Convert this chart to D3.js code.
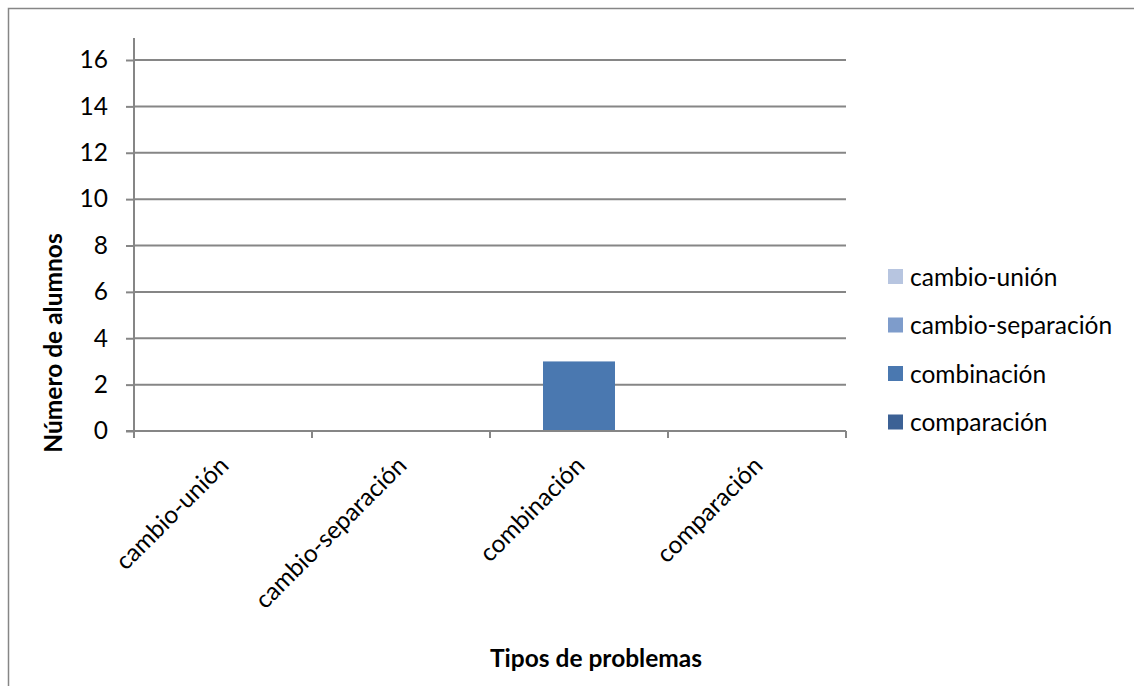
<!DOCTYPE html>
<html>
<head>
<meta charset="utf-8">
<script src="https://cdn.jsdelivr.net/npm/d3@7/dist/d3.min.js"></script>
<style>
  html, body { margin: 0; padding: 0; background: #fff; }
  svg { display: block; font-family: Lato, "Open Sans", sans-serif; }
</style>
</head>
<body>
<svg id="chart" width="1134" height="686"></svg>
<script>
// Problem types (one series, one colour per point)
const categories = ["cambio-unión", "cambio-separación", "combinación", "comparación"];
const values = [0, 0, 3, 0];
const colors = ["#B7C5E0", "#7E9CCB", "#4A78B0", "#3C6195"];
const yTicks = [0, 2, 4, 6, 8, 10, 12, 14, 16];
const yTitle = "Número de alumnos";
const xTitle = "Tipos de problemas";

const svg = d3.select("#chart");
const axisColor = "#868686";
const fontSize = "24.5px";

// chart frame
svg.append("rect")
  .attr("x", 8.5).attr("y", 8.5)
  .attr("width", 1134).attr("height", 690)
  .attr("fill", "none").attr("stroke", axisColor).attr("stroke-width", 1.5);

const plotLeft = 134, plotRight = 846, plotBottom = 431, plotTop = 38;

const x = d3.scaleBand().domain(categories).range([plotLeft, plotRight]).paddingInner(0).paddingOuter(0);
const y = d3.scaleLinear().domain([0, 16]).range([plotBottom, 60]);

// horizontal gridlines
svg.append("g").selectAll("line").data(yTicks.filter(d => d > 0)).join("line")
  .attr("x1", plotLeft).attr("x2", plotRight)
  .attr("y1", d => y(d)).attr("y2", d => y(d))
  .attr("stroke", axisColor).attr("stroke-width", 2);

// bars
const barW = 72;
svg.append("g").selectAll("rect").data(categories).join("rect")
  .attr("x", d => x(d) + x.bandwidth() / 2 - barW / 2)
  .attr("width", barW)
  .attr("y", (d, i) => y(values[i]))
  .attr("height", (d, i) => y(0) - y(values[i]))
  .attr("fill", (d, i) => colors[i]);

// y axis
const yAxis = d3.axisLeft(y).tickValues(yTicks).tickSize(8).tickPadding(18);
const gy = svg.append("g").attr("transform", `translate(${plotLeft},0)`).call(yAxis);
gy.select(".domain").remove();
gy.append("line").attr("x1", 0).attr("x2", 0).attr("y1", plotTop).attr("y2", plotBottom + 6)
  .attr("stroke", axisColor).attr("stroke-width", 2);
gy.selectAll(".tick line").attr("stroke", axisColor).attr("stroke-width", 2);
gy.selectAll(".tick text").attr("fill", "#000").style("font-size", fontSize)
  .style("font-family", "Lato, sans-serif");

// x axis: line + boundary ticks
const gx = svg.append("g");
gx.append("line").attr("x1", plotLeft - 8).attr("x2", plotRight).attr("y1", plotBottom).attr("y2", plotBottom)
  .attr("stroke", axisColor).attr("stroke-width", 2);
const bounds = categories.map(c => x(c)).concat([plotRight]);
gx.selectAll("line.tk").data(bounds).join("line").attr("class", "tk")
  .attr("x1", d => d).attr("x2", d => d).attr("y1", plotBottom).attr("y2", plotBottom + 7)
  .attr("stroke", axisColor).attr("stroke-width", 2);

// rotated category labels
gx.selectAll("text").data(categories).join("text")
  .attr("transform", d => `translate(${x(d) + x.bandwidth() / 2 + 1},${plotBottom + 30}) rotate(-45)`)
  .attr("text-anchor", "end")
  .attr("dy", "0.35em")
  .style("font-size", fontSize)
  .attr("fill", "#000")
  .text(d => d);

// axis titles
svg.append("text")
  .attr("transform", "translate(62,343) rotate(-90)")
  .attr("text-anchor", "middle")
  .style("font-size", fontSize).style("font-weight", "bold")
  .text(yTitle);

svg.append("text")
  .attr("x", 596).attr("y", 667)
  .attr("text-anchor", "middle")
  .style("font-size", fontSize).style("font-weight", "bold")
  .text(xTitle);

// legend
const legend = svg.append("g").selectAll("g").data(categories).join("g")
  .attr("transform", (d, i) => `translate(888,${269 + i * 48.5})`);
legend.append("rect").attr("width", 15).attr("height", 15).attr("fill", (d, i) => colors[i]);
legend.append("text").attr("x", 22).attr("y", 8).attr("dy", "0.35em")
  .style("font-size", fontSize).text(d => d);
</script>
</body>
</html>
